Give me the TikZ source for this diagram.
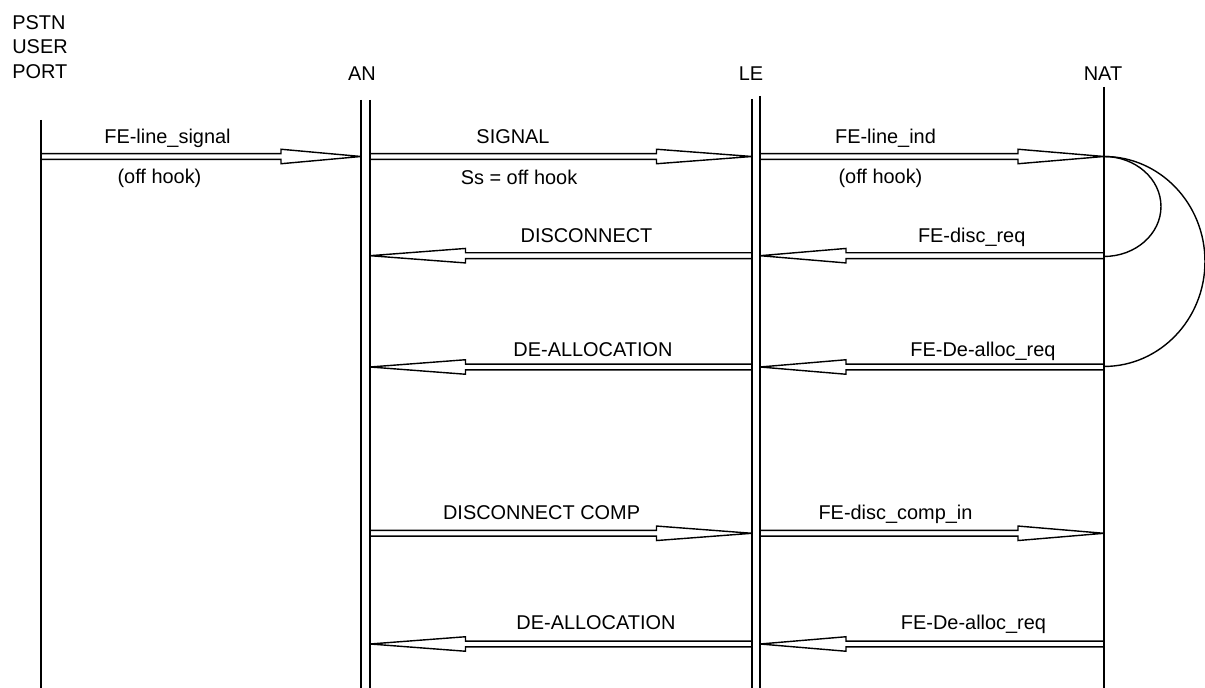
\documentclass[tikz,border=0pt]{standalone}
\usepackage{fontspec}
\setmainfont{Liberation Sans}
\usetikzlibrary{calc}

\tikzset{
  life/.style={line width=0.8pt},
  msg/.style={line width=0.8pt, to path={
    ($(\tikztostart)!0.058cm!90:(\tikztotarget)$) --
    ($(\tikztostart)!0.75!(\tikztotarget)!0.058cm!90:(\tikztotarget)$) --
    ($(\tikztostart)!0.75!(\tikztotarget)!0.145cm!90:(\tikztotarget)$) --
    (\tikztotarget) --
    ($(\tikztostart)!0.75!(\tikztotarget)!0.145cm!-90:(\tikztotarget)$) --
    ($(\tikztostart)!0.75!(\tikztotarget)!0.058cm!-90:(\tikztotarget)$) --
    ($(\tikztostart)!0.058cm!-90:(\tikztotarget)$) -- cycle}},
  lbl/.style={anchor=base, inner sep=0pt, font=\fontsize{11.34}{13.9}\selectfont}
}

\begin{document}
\begin{tikzpicture}[x=0.02cm, y=-0.02cm]

\useasboundingbox (0,0) rectangle (1205,688);

% Headers
\node[lbl, anchor=north west, align=left] (pstnhd) at (12,15) {PSTN\\USER\\PORT};
\node[lbl] (anhd) at (362,80.5) {AN};
\node[lbl] (lehd) at (751,80.5) {LE};
\node[lbl] (nathd) at (1103,80.5) {NAT};

% Lifelines
\coordinate (pstn) at (41,0);
\coordinate (anl) at (361,0);
\coordinate (anr) at (370,0);
\coordinate (lel) at (752,0);
\coordinate (ler) at (760,0);
\coordinate (nat) at (1104,0);

\draw[life] (pstn |- 0,120) -- (pstn |- 0,688);
\draw[life] (anl |- 0,100) -- (anl |- 0,688);
\draw[life] (anr |- 0,100) -- (anr |- 0,688);
\draw[life] (lel |- 0,99) -- (lel |- 0,688);
\draw[life] (ler |- 0,96) -- (ler |- 0,688);
\draw[life] (nat |- 0,87) -- (nat |- 0,688);

% Message rows
\coordinate (r1) at (0,156.5);
\coordinate (r2) at (0,255.7);
\coordinate (r3) at (0,367);
\coordinate (r4) at (0,533.3);
\coordinate (r5) at (0,644);

% Messages
\draw[msg] (pstn |- r1) to (anl |- r1);
\draw[msg] (anr |- r1) to (lel |- r1);
\draw[msg] (ler |- r1) to (nat |- r1);

\draw[msg] (lel |- r2) to (anr |- r2);
\draw[msg] (nat |- r2) to (ler |- r2);

\draw[msg] (lel |- r3) to (anr |- r3);
\draw[msg] (nat |- r3) to (ler |- r3);

\draw[msg] (anr |- r4) to (lel |- r4);
\draw[msg] (ler |- r4) to (nat |- r4);

\draw[msg] (lel |- r5) to (anr |- r5);
\draw[msg] (nat |- r5) to (ler |- r5);

% Loops at NAT
\draw[life] (nat |- r1) arc[start angle=90, end angle=-90, x radius=1.14cm, y radius=1cm];
\draw[life] (nat |- r1) arc[start angle=90, end angle=-90, x radius=2.02cm, y radius=2.1cm];

% Labels
\node[lbl] (linesig) at (167.5,144) {FE-line\_signal};
\node[lbl] (offhook1) at (159.5,184) {(off hook)};
\node[lbl] (signal) at (513,144) {SIGNAL};
\node[lbl] (ss) at (519,185) {Ss = off hook};
\node[lbl] (lineind) at (885.5,144) {FE-line\_ind};
\node[lbl] (offhook2) at (880.5,184) {(off hook)};

\node[lbl] (disc) at (586.5,243) {DISCONNECT};
\node[lbl] (discreq) at (971.7,243) {FE-disc\_req};

\node[lbl] (dealloc1) at (593,356.5) {DE-ALLOCATION};
\node[lbl] (deallocreq1) at (983,356.5) {FE-De-alloc\_req};

\node[lbl] (disccomp) at (541.6,519.5) {DISCONNECT COMP};
\node[lbl] (disccompin) at (895.5,519.5) {FE-disc\_comp\_in};

\node[lbl] (dealloc2) at (596,629.5) {DE-ALLOCATION};
\node[lbl] (deallocreq2) at (973.5,629.5) {FE-De-alloc\_req};

\end{tikzpicture}
\end{document}
